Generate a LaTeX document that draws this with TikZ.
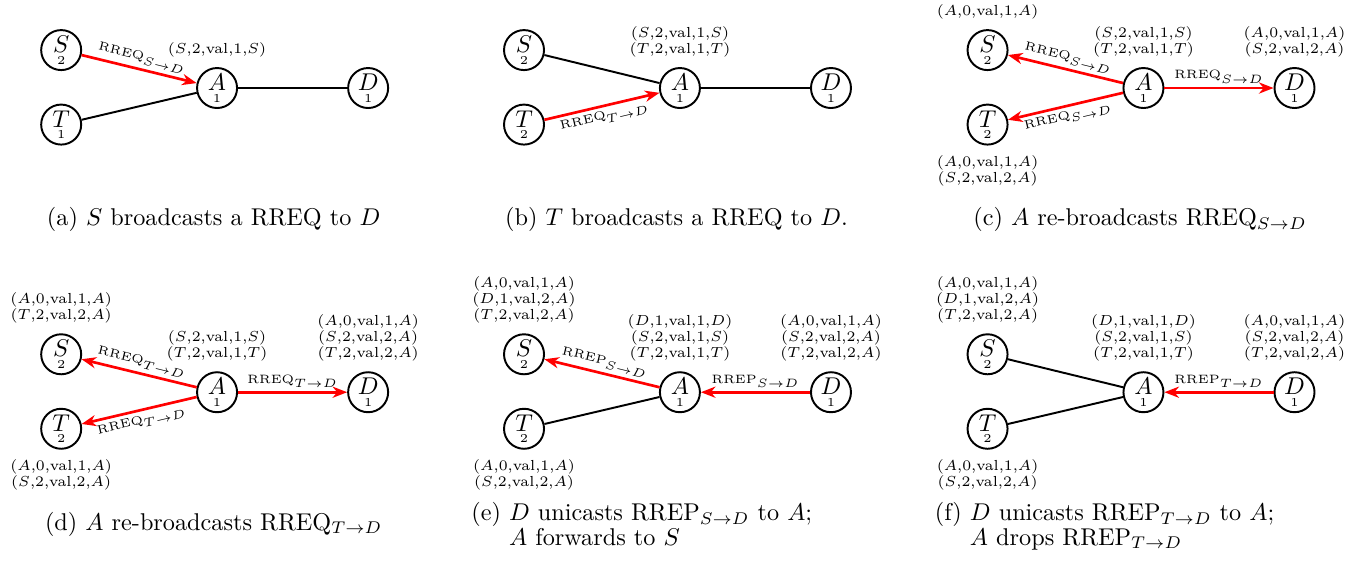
\documentclass[tikz,border=0pt]{standalone}
\usetikzlibrary{positioning,arrows.meta}

\tikzset{
  host/.style={circle,draw,thick,minimum size=0.58cm,inner sep=0pt,align=center},
  link/.style={thick},
  msg/.style={red,line width=1.1pt,-{Stealth[length=6pt,width=4.6pt,inset=1.9pt]}},
  lbl/.style={font=\tiny,text=black,sloped,inner sep=1.5pt},
  rtab/.style={font={\fontsize{6}{6.6}\selectfont},align=center,inner sep=1pt},
  capt/.style={font={\fontsize{10}{10.3}\selectfont},inner sep=0pt},
}

\begin{document}
\begin{tikzpicture}
\useasboundingbox (-3.147,1.276) rectangle (16.70,-6.86);

% the four hosts of every panel
\foreach \p/\x/\y/\tn in {a/0/0/1,b/6.71/0/2,c/13.43/0/2,d/0/-4.41/2,e/6.71/-4.41/2,f/13.43/-4.41/2} {
  \node[host] (A-\p) at (\x,\y) {$A$\\[-7.2pt]{\tiny 1}};
  \node[host] (S-\p) at (\x-2.26,\y+0.55) {$S$\\[-7.2pt]{\tiny 2}};
  \node[host] (T-\p) at (\x-2.26,\y-0.53) {$T$\\[-7.2pt]{\tiny \tn}};
  \node[host] (D-\p) at (\x+2.19,\y) {$D$\\[-7.2pt]{\tiny 1}};
}

% (a)
\draw[msg] (S-a) -- node[lbl,above] {RREQ$_{S\to D}$} (A-a);
\draw[link] (T-a) -- (A-a);
\draw[link] (A-a) -- (D-a);
\node[rtab,above=3pt of A-a] (tA-a) {($S$,2,val,1,$S$)};
\node[capt,anchor=base] (cap-a) at ([shift={(-0.05,-2.0)}]A-a) {(a) $S$ broadcasts a RREQ to $D$};

% (b)
\draw[link] (S-b) -- (A-b);
\draw[msg] (T-b) -- node[lbl,below] {RREQ$_{T\to D}$} (A-b);
\draw[link] (A-b) -- (D-b);
\node[rtab,above=3pt of A-b] (tA-b) {($S$,2,val,1,$S$)\\($T$,2,val,1,$T$)};
\node[capt,anchor=base] (cap-b) at ([shift={(-0.05,-2.0)}]A-b) {(b) $T$ broadcasts a RREQ to $D$.};

% (c)
\draw[msg] (A-c) -- node[lbl,above] {RREQ$_{S\to D}$} (S-c);
\draw[msg] (A-c) -- node[lbl,below] {RREQ$_{S\to D}$} (T-c);
\draw[msg] (A-c) -- node[lbl,above] {RREQ$_{S\to D}$} (D-c);
\node[rtab,above=3pt of S-c] (tS-c) {($A$,0,val,1,$A$)};
\node[rtab,below=3pt of T-c] (tT-c) {($A$,0,val,1,$A$)\\($S$,2,val,2,$A$)};
\node[rtab,above=3pt of A-c] (tA-c) {($S$,2,val,1,$S$)\\($T$,2,val,1,$T$)};
\node[rtab,above=3pt of D-c] (tD-c) {($A$,0,val,1,$A$)\\($S$,2,val,2,$A$)};
\node[capt,anchor=base] (cap-c) at ([shift={(-0.05,-2.0)}]A-c) {(c) $A$ re-broadcasts RREQ$_{S\to D}$};

% (d)
\draw[msg] (A-d) -- node[lbl,above] {RREQ$_{T\to D}$} (S-d);
\draw[msg] (A-d) -- node[lbl,below] {RREQ$_{T\to D}$} (T-d);
\draw[msg] (A-d) -- node[lbl,above] {RREQ$_{T\to D}$} (D-d);
\node[rtab,above=3pt of S-d] (tS-d) {($A$,0,val,1,$A$)\\($T$,2,val,2,$A$)};
\node[rtab,below=3pt of T-d] (tT-d) {($A$,0,val,1,$A$)\\($S$,2,val,2,$A$)};
\node[rtab,above=3pt of A-d] (tA-d) {($S$,2,val,1,$S$)\\($T$,2,val,1,$T$)};
\node[rtab,above=3pt of D-d] (tD-d) {($A$,0,val,1,$A$)\\($S$,2,val,2,$A$)\\($T$,2,val,2,$A$)};
\node[capt,anchor=base] (cap-d) at ([shift={(-0.05,-2.0)}]A-d) {(d) $A$ re-broadcasts RREQ$_{T\to D}$};

% (e)
\draw[msg] (A-e) -- node[lbl,above] {RREP$_{S\to D}$} (S-e);
\draw[link] (T-e) -- (A-e);
\draw[msg] (D-e) -- node[lbl,above] {RREP$_{S\to D}$} (A-e);
\node[rtab,above=3pt of S-e] (tS-e) {($A$,0,val,1,$A$)\\($D$,1,val,2,$A$)\\($T$,2,val,2,$A$)};
\node[rtab,below=3pt of T-e] (tT-e) {($A$,0,val,1,$A$)\\($S$,2,val,2,$A$)};
\node[rtab,above=3pt of A-e] (tA-e) {($D$,1,val,1,$D$)\\($S$,2,val,1,$S$)\\($T$,2,val,1,$T$)};
\node[rtab,above=3pt of D-e] (tD-e) {($A$,0,val,1,$A$)\\($S$,2,val,2,$A$)\\($T$,2,val,2,$A$)};
\node[capt,anchor=base west,align=left] (cap-e) at ([shift={(-3.03,-2.22)}]A-e)
  {(e) $D$ unicasts RREP$_{S\to D}$ to $A$;\\\phantom{(e) }$A$ forwards to $S$};

% (f)
\draw[link] (S-f) -- (A-f);
\draw[link] (T-f) -- (A-f);
\draw[msg] (D-f) -- node[lbl,above] {RREP$_{T\to D}$} (A-f);
\node[rtab,above=3pt of S-f] (tS-f) {($A$,0,val,1,$A$)\\($D$,1,val,2,$A$)\\($T$,2,val,2,$A$)};
\node[rtab,below=3pt of T-f] (tT-f) {($A$,0,val,1,$A$)\\($S$,2,val,2,$A$)};
\node[rtab,above=3pt of A-f] (tA-f) {($D$,1,val,1,$D$)\\($S$,2,val,1,$S$)\\($T$,2,val,1,$T$)};
\node[rtab,above=3pt of D-f] (tD-f) {($A$,0,val,1,$A$)\\($S$,2,val,2,$A$)\\($T$,2,val,2,$A$)};
\node[capt,anchor=base west,align=left] (cap-f) at ([shift={(-3.03,-2.22)}]A-f)
  {(f) $D$ unicasts RREP$_{T\to D}$ to $A$;\\\phantom{(f) }$A$ drops RREP$_{T\to D}$};
\end{tikzpicture}
\end{document}
